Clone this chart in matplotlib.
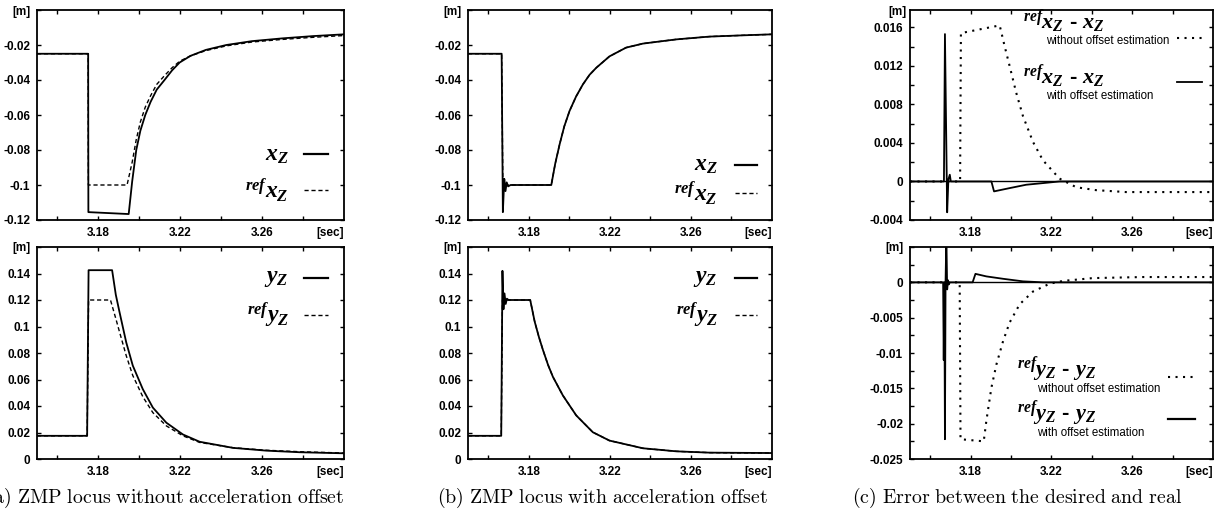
import matplotlib
matplotlib.use("Agg")
import matplotlib.pyplot as plt
from matplotlib.lines import Line2D

plt.rcParams['font.family'] = ['Liberation Sans', 'DejaVu Sans']
plt.rcParams['mathtext.fontset'] = 'custom'
plt.rcParams['mathtext.it'] = 'Liberation Serif:italic:bold'
plt.rcParams['mathtext.rm'] = 'Liberation Serif:bold'
plt.rcParams['mathtext.bf'] = 'Liberation Serif:bold'

# (a) without acceleration offset, x
a_x_t = [3.15, 3.175, 3.1751, 3.1948, 3.1965, 3.1985, 3.2005, 3.2029, 3.2055, 3.2085,
         3.2123, 3.216, 3.2197, 3.225, 3.2325, 3.2425, 3.255, 3.27, 3.285, 3.30]
a_x = [-0.025, -0.025, -0.1155, -0.1166, -0.098, -0.080, -0.069, -0.060, -0.0525, -0.0455,
       -0.040, -0.0345, -0.030, -0.0262, -0.0228, -0.020, -0.0178, -0.0162, -0.0149, -0.0139]
a_xref_t = [3.15, 3.175, 3.1751, 3.1940, 3.1965, 3.1985, 3.2005, 3.2029, 3.2055, 3.2085,
            3.2123, 3.216, 3.2197, 3.225, 3.2325, 3.2425, 3.255, 3.27, 3.285, 3.30]
a_xref = [-0.025, -0.025, -0.100, -0.100, -0.087, -0.074, -0.064, -0.0555, -0.049, -0.0425,
          -0.0375, -0.033, -0.0293, -0.0262, -0.0232, -0.0205, -0.0183, -0.0168, -0.0156, -0.0146]

# (a) y
a_y_t = [3.15, 3.1745, 3.1752, 3.1867, 3.1885, 3.1903, 3.1936, 3.1968, 3.2017, 3.2066,
         3.2132, 3.2213, 3.2295, 3.2458, 3.2621, 3.2784, 3.30]
a_y = [0.0175, 0.0175, 0.1425, 0.1425, 0.124, 0.111, 0.088, 0.0705, 0.0527, 0.0388,
       0.0274, 0.0185, 0.013, 0.0084, 0.0063, 0.0051, 0.0043]
a_yref_t = [3.15, 3.1745, 3.1752, 3.1859, 3.1885, 3.1903, 3.1936, 3.1968, 3.2017, 3.2066,
            3.2132, 3.2213, 3.2295, 3.2458, 3.2621, 3.2784, 3.30]
a_yref = [0.0175, 0.0175, 0.12, 0.12, 0.106, 0.096, 0.078, 0.063, 0.047, 0.035,
          0.025, 0.0175, 0.0125, 0.0085, 0.0066, 0.0055, 0.0045]

# (b) with acceleration offset, x
b_x_t = [3.15, 3.1666, 3.1672, 3.1679, 3.1685, 3.1691, 3.1698, 3.1710, 3.1911, 3.1930,
         3.1952, 3.1975, 3.2001, 3.2033, 3.2067, 3.2100, 3.2133, 3.2198, 3.2280, 3.2363,
         3.2527, 3.2691, 3.285, 3.30]
b_x = [-0.025, -0.025, -0.1155, -0.0965, -0.1035, -0.0985, -0.1008, -0.1, -0.1, -0.088,
       -0.0768, -0.0665, -0.0577, -0.0495, -0.0425, -0.037, -0.033, -0.0265, -0.0215, -0.0192,
       -0.0168, -0.0152, -0.0145, -0.0139]
b_xref_t = [3.15, 3.1666, 3.1672, 3.1911, 3.1930, 3.1952, 3.1975, 3.2001, 3.2033, 3.2067,
            3.2100, 3.2133, 3.2198, 3.2280, 3.2363, 3.2527, 3.2691, 3.285, 3.30]
b_xref = [-0.025, -0.025, -0.1, -0.1, -0.088, -0.0768, -0.0665, -0.0577, -0.0495, -0.0425,
          -0.037, -0.033, -0.0265, -0.0215, -0.0192, -0.0168, -0.0152, -0.0145, -0.0139]

# (b) y
b_y_t = [3.15, 3.1664, 3.1670, 3.1675, 3.1680, 3.1686, 3.1692, 3.1700, 3.1807, 3.1829,
         3.1850, 3.1870, 3.1895, 3.1919, 3.1968, 3.2034, 3.2116, 3.2198, 3.2363, 3.2527,
         3.2691, 3.30]
b_y = [0.0175, 0.0175, 0.142, 0.113, 0.125, 0.117, 0.121, 0.12, 0.12, 0.1037,
       0.092, 0.0822, 0.071, 0.062, 0.048, 0.0329, 0.0202, 0.0139, 0.0081, 0.0058,
       0.0048, 0.0045]
b_yref_t = [3.15, 3.1664, 3.1670, 3.1807, 3.1829, 3.1850, 3.1870, 3.1895, 3.1919, 3.1968,
            3.2034, 3.2116, 3.2198, 3.2363, 3.2527, 3.2691, 3.30]
b_yref = [0.0175, 0.0175, 0.12, 0.12, 0.1037, 0.092, 0.0822, 0.071, 0.062, 0.048,
          0.0329, 0.0202, 0.0139, 0.0081, 0.0058, 0.0048, 0.0045]

# (c) errors, x
c_xnone_t = [3.15, 3.1748, 3.1752, 3.1944, 3.1969, 3.1993, 3.2026, 3.2059, 3.2109, 3.2158,
             3.224, 3.2323, 3.2421, 3.2569, 3.30]
c_xnone = [0.0, 0.0, 0.0154, 0.0162, 0.0140, 0.0120, 0.0092, 0.0068, 0.0041, 0.0022,
           0.0003, -0.0006, -0.0009, -0.0011, -0.0011]
c_xest_t = [3.15, 3.1668, 3.1673, 3.1684, 3.1690, 3.1697, 3.1702, 3.1903, 3.1916, 3.1993,
            3.2075, 3.2158, 3.224, 3.30]
c_xest = [0.0, 0.0, 0.0153, -0.0032, 0.0002, 0.0007, 0.0, 0.0, -0.00103, -0.00069,
          -0.00034, -0.00017, 0.0, 0.0]

# (c) errors, y
c_ynone_t = [3.15, 3.1746, 3.1750, 3.1865, 3.1878, 3.1903, 3.1928, 3.1961, 3.1993, 3.2043,
             3.2109, 3.2191, 3.2257, 3.2405, 3.2652, 3.30]
c_ynone = [0.0, 0.0, -0.0222, -0.0225, -0.0196, -0.0149, -0.0116, -0.0083, -0.0057, -0.0031,
           -0.0013, -0.0002, 0.0002, 0.0006, 0.00075, 0.00075]
c_yest_t = [3.15, 3.1664, 3.1667, 3.1670, 3.1673, 3.1676, 3.1680, 3.1684, 3.1688, 3.1692,
            3.1697, 3.1810, 3.1824, 3.1878, 3.1961, 3.2059, 3.2158, 3.30]
c_yest = [0.0, 0.0, -0.011, 0.0, -0.0222, 0.0, 0.0065, -0.001, 0.0003, -0.0003,
          0.0, 0.0, 0.0012, 0.00084, 0.0005, 0.00014, 0.0, 0.0]

x_ticks = [3.16, 3.18, 3.20, 3.22, 3.24, 3.26, 3.28]
x_labels = ['', '3.18', '', '3.22', '', '3.26', '']

W, H = 1228, 518
fig = plt.figure(figsize=(W / 100, H / 100), dpi=100)

cols = [(37, 307), (468, 304), (910, 303)]
rows = [(10, 220), (247, 459)]


def make_ax(col, row):
    l, w = cols[col]
    t, b = rows[row]
    ax = fig.add_axes([l / W, 1 - b / H, w / W, (b - t) / H])
    ax.set_xlim(3.15, 3.30)
    ax.set_xticks(x_ticks)
    ax.set_xticklabels(x_labels)
    ax.tick_params(direction='in', top=True, right=True, length=3, width=1,
                   labelsize=8.5, pad=5)
    ax.tick_params(which='minor', direction='in', top=True, right=True, length=3, width=1)
    for lab in ax.get_xticklabels() + ax.get_yticklabels():
        lab.set_fontweight('bold')
    for s in ax.spines.values():
        s.set_linewidth(1.3)
    ax.text(1.0, -0.035, '[sec]', transform=ax.transAxes, ha='right', va='top',
            fontsize=8.5, fontweight='bold')
    return ax


def set_y(ax, ticks, labels):
    ax.set_yticks(ticks)
    ax.set_yticklabels(labels)
    for lab in ax.get_yticklabels():
        lab.set_fontweight('bold')


def key(ax, x0, x1, y, **kw):
    ax.add_line(Line2D([x0, x1], [y, y], transform=ax.transAxes, color='black', **kw))


def big(ax, x, y, s, ha='right', size=17, va='center'):
    ax.text(x, y, s, transform=ax.transAxes, ha=ha, va=va, fontsize=size,
            fontweight='bold')


def small(ax, x, y, s):
    ax.text(x, y, s, transform=ax.transAxes, ha='left', va='center', fontsize=8.3)


solid = dict(color='black', lw=1.3)
dashed = dict(color='black', lw=1.0, dashes=(3, 2))
dotted = dict(color='black', lw=1.5, dashes=(1, 2.6))

# (a) top
ax = make_ax(0, 0)
ax.plot(a_xref_t, a_xref, **dashed)
ax.plot(a_x_t, a_x, **solid)
ax.set_ylim(-0.12, 0)
set_y(ax, [-0.12, -0.1, -0.08, -0.06, -0.04, -0.02, 0],
      ['-0.12', '-0.1', '-0.08', '-0.06', '-0.04', '-0.02', '[m]'])
big(ax, 0.82, 0.314, r'$x_Z$')
big(ax, 0.82, 0.143, r'$^{ref}x_Z$')
key(ax, 0.87, 0.948, 0.314, lw=1.6)
key(ax, 0.87, 0.948, 0.143, lw=1.0, dashes=(3, 2))

# (a) bottom
ax = make_ax(0, 1)
ax.plot(a_yref_t, a_yref, **dashed)
ax.plot(a_y_t, a_y, **solid)
ax.set_ylim(0, 0.16)
set_y(ax, [0, 0.02, 0.04, 0.06, 0.08, 0.1, 0.12, 0.14, 0.16],
      ['0', '0.02', '0.04', '0.06', '0.08', '0.1', '0.12', '0.14', '[m]'])
big(ax, 0.82, 0.854, r'$y_Z$')
big(ax, 0.82, 0.68, r'$^{ref}y_Z$')
key(ax, 0.87, 0.948, 0.854, lw=1.6)
key(ax, 0.87, 0.948, 0.68, lw=1.0, dashes=(3, 2))

# (b) top
ax = make_ax(1, 0)
ax.plot(b_xref_t, b_xref, **dashed)
ax.plot(b_x_t, b_x, **solid)
ax.set_ylim(-0.12, 0)
set_y(ax, [-0.12, -0.1, -0.08, -0.06, -0.04, -0.02, 0],
      ['-0.12', '-0.1', '-0.08', '-0.06', '-0.04', '-0.02', '[m]'])
big(ax, 0.822, 0.262, r'$x_Z$')
big(ax, 0.822, 0.13, r'$^{ref}x_Z$')
key(ax, 0.878, 0.95, 0.262, lw=1.6)
key(ax, 0.878, 0.95, 0.13, lw=1.0, dashes=(3, 2))

# (b) bottom
ax = make_ax(1, 1)
ax.plot(b_yref_t, b_yref, **dashed)
ax.plot(b_y_t, b_y, **solid)
ax.set_ylim(0, 0.16)
set_y(ax, [0, 0.02, 0.04, 0.06, 0.08, 0.1, 0.12, 0.14, 0.16],
      ['0', '0.02', '0.04', '0.06', '0.08', '0.1', '0.12', '0.14', '[m]'])
big(ax, 0.822, 0.854, r'$y_Z$')
big(ax, 0.822, 0.68, r'$^{ref}y_Z$')
key(ax, 0.878, 0.95, 0.854, lw=1.6)
key(ax, 0.878, 0.95, 0.68, lw=1.0, dashes=(3, 2))

# (c) top
ax = make_ax(2, 0)
ax.axhline(0, color='black', lw=1.0)
ax.plot(c_xnone_t, c_xnone, **dotted)
ax.plot(c_xest_t, c_xest, **solid)
ax.set_ylim(-0.004, 0.0178)
set_y(ax, [-0.004, 0, 0.004, 0.008, 0.012, 0.016],
      ['-0.004', '0', '0.004', '0.008', '0.012', '0.016'])
ax.set_yticks([-0.002, 0.002, 0.006, 0.010, 0.014], minor=True)
ax.text(-0.012, 0.99, '[m]', transform=ax.transAxes, ha='right', va='center',
        fontsize=8.5, fontweight='bold')
big(ax, 0.373, 0.912, r'$^{ref}x_Z$ - $x_Z$', ha='left', size=16, va='baseline')
small(ax, 0.45, 0.852, 'without offset estimation')
key(ax, 0.88, 0.965, 0.865, lw=1.5, dashes=(1, 2.6))
big(ax, 0.373, 0.652, r'$^{ref}x_Z$ - $x_Z$', ha='left', size=16, va='baseline')
small(ax, 0.45, 0.592, 'with offset estimation')
key(ax, 0.88, 0.965, 0.657, lw=1.3)

# (c) bottom
ax = make_ax(2, 1)
ax.axhline(0, color='black', lw=1.0)
ax.plot(c_ynone_t, c_ynone, **dotted)
ax.plot(c_yest_t, c_yest, **solid)
ax.set_ylim(-0.025, 0.005)
set_y(ax, [-0.025, -0.02, -0.015, -0.01, -0.005, 0, 0.005],
      ['-0.025', '-0.02', '-0.015', '-0.01', '-0.005', '0', '[m]'])
ax.set_yticks([-0.0225, -0.0175, -0.0125, -0.0075, -0.0025, 0.0025], minor=True)
big(ax, 0.353, 0.396, r'$^{ref}y_Z$ - $y_Z$', ha='left', size=16, va='baseline')
small(ax, 0.42, 0.328, 'without offset estimation')
key(ax, 0.85, 0.935, 0.387, lw=1.5, dashes=(1, 2.6))
big(ax, 0.353, 0.184, r'$^{ref}y_Z$ - $y_Z$', ha='left', size=16, va='baseline')
small(ax, 0.42, 0.125, 'with offset estimation')
key(ax, 0.853, 0.94, 0.19, lw=1.6)

# captions (the first one runs off the left edge, as in the source figure)
cap = dict(fontsize=14.3, va='center', math_fontfamily='cm')
fig.text(344 / W, 1 - 498 / H, r'$\mathrm{(a)\ ZMP\ locus\ without\ acceleration\ offset}$',
         ha='right', **cap)
fig.text(437 / W, 1 - 498 / H, r'$\mathrm{(b)\ ZMP\ locus\ with\ acceleration\ offset}$',
         ha='left', **cap)
fig.text(852 / W, 1 - 498 / H, r'$\mathrm{(c)\ Error\ between\ the\ desired\ and\ real}$',
         ha='left', **cap)

fig.savefig('out.png', dpi=100)
